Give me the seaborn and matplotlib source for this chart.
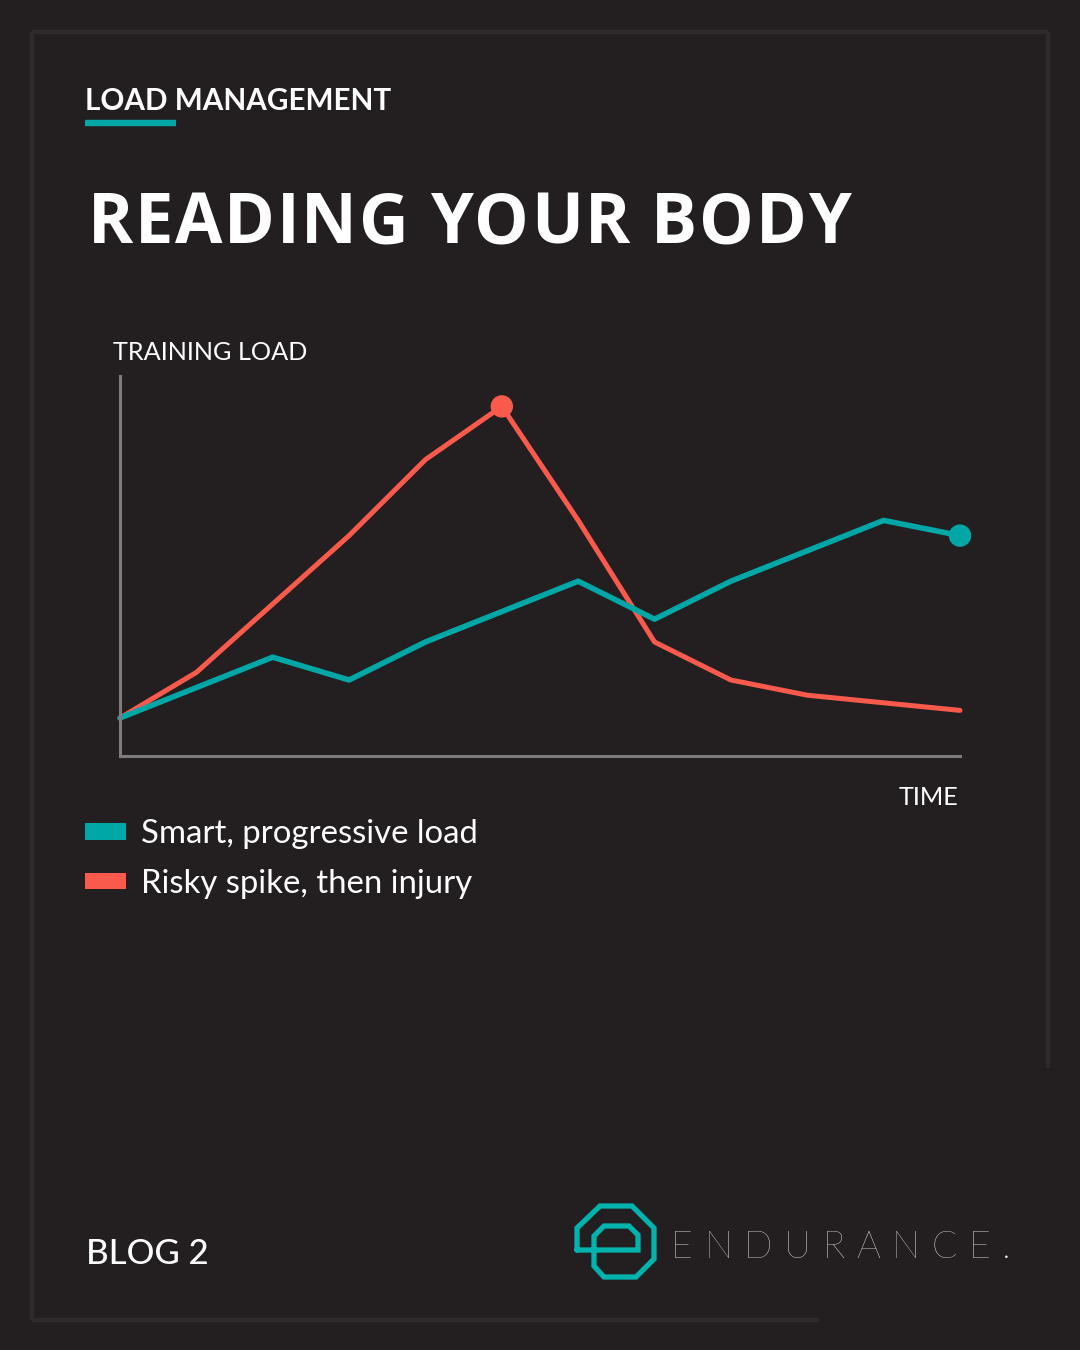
import numpy as np
import pandas as pd
import matplotlib
matplotlib.use("Agg")
import matplotlib.pyplot as plt
import seaborn as sns
from matplotlib.patches import Patch
from matplotlib.lines import Line2D

# ---- data (load on a 0-100 scale) ----
steps = list(range(12))
smart_load = [10, 18, 26, 20, 30, 38, 46, 36, 46, 54, 62, 58]
risky_load = [10, 22, 40, 58, 78, 92, 62, 30, 20, 16, 14, 12]
series_names = ["Smart, progressive load", "Risky spike, then injury"]

BG = "#231f20"
FRAME = "#2e2a2b"
TEAL = "#00a7a7"
RED = "#fa5a4b"
GREY = "#7d7b7b"
W, H = 1080, 1350

df = pd.DataFrame({
    "step": steps * 2,
    "load": smart_load + risky_load,
    "series": [series_names[0]] * 12 + [series_names[1]] * 12,
})
palette = {series_names[0]: TEAL, series_names[1]: RED}

sns.set_style("dark")
plt.rcParams["font.family"] = ["Lato", "DejaVu Sans"]

fig = plt.figure(figsize=(W / 100, H / 100), dpi=100, facecolor=BG)


def fx(x):
    return x / W


def fy(y):
    return 1 - y / H


# frame (open at the bottom right, where the logo sits)
frame_kw = dict(color=FRAME, lw=3, solid_capstyle="butt", transform=fig.transFigure)
fig.add_artist(Line2D([fx(32), fx(1048)], [fy(32), fy(32)], **frame_kw))
fig.add_artist(Line2D([fx(32), fx(32)], [fy(32), fy(1320)], **frame_kw))
fig.add_artist(Line2D([fx(32), fx(819)], [fy(1320), fy(1320)], **frame_kw))
fig.add_artist(Line2D([fx(1048), fx(1048)], [fy(32), fy(1068)], **frame_kw))

# ---- chart ----
ax = fig.add_axes([fx(120), fy(756), (960 - 120) / W, (756 - 376) / H])
ax.set_facecolor("none")
order = [series_names[1], series_names[0]]  # teal drawn on top
for name in order:
    sub = df[df["series"] == name]
    sns.lineplot(data=sub, x="step", y="load", color=palette[name], ax=ax,
                 linewidth=4.0 if name == series_names[0] else 3.6,
                 legend=False, clip_on=False)

# end markers: peak of the risky series, last point of the smart series
risky = df[df["series"] == series_names[1]]
smart = df[df["series"] == series_names[0]]
marks = pd.concat([risky.loc[[risky["load"].idxmax()]], smart.iloc[[-1]]])
sns.scatterplot(data=marks, x="step", y="load", hue="series", palette=palette,
                s=260, linewidth=0, legend=False, ax=ax, clip_on=False, zorder=5)

ax.set_xlim(0, 11)
ax.set_ylim(0, 100)
ax.set_xticks([])
ax.set_yticks([])
ax.set_xlabel("")
ax.set_ylabel("")
ax.grid(False)
for side in ["top", "right"]:
    ax.spines[side].set_visible(False)
ax.spines["left"].set_visible(True)
ax.spines["bottom"].set_visible(True)
ax.spines["left"].set_color(GREY)
ax.spines["bottom"].set_color(GREY)
ax.spines["left"].set_linewidth(2.2)
ax.spines["bottom"].set_linewidth(2.2)

# ---- texts ----
renderer = fig.canvas.get_renderer()


def spaced(x, y, s, spacing, space_w=None, **kw):
    for ch in s:
        if ch == " ":
            x += (space_w or kw.get("fontsize", 10) * 1.39 * 0.26) + spacing
            continue
        t = fig.text(fx(x), fy(y), ch, va="baseline", ha="left", **kw)
        x += t.get_window_extent(renderer).width + spacing


fig.text(fx(85), fy(110), "LOAD MANAGEMENT", color="white", fontsize=21.3,
         fontweight="bold", va="baseline", ha="left")
fig.add_artist(Line2D([fx(85), fx(176)], [fy(123), fy(123)], color=TEAL, lw=4.6,
                      solid_capstyle="butt", transform=fig.transFigure))

spaced(88, 243, "READING YOUR BODY", 1.7, space_w=18, color="white",
       fontsize=49.5, fontweight="bold", family="Open Sans")

fig.text(fx(113), fy(360), "TRAINING LOAD", color="white", fontsize=18.2,
         va="baseline", ha="left")
fig.text(fx(958), fy(805), "TIME", color="white", fontsize=18.2,
         va="baseline", ha="right")

handles = [Patch(facecolor=palette[n], edgecolor="none") for n in series_names]
fig.legend(handles, series_names, loc="upper left",
           bbox_to_anchor=(fx(85), fy(819)), frameon=False, fontsize=23.7,
           labelcolor="white", handlelength=1.25, handleheight=0.4,
           handletextpad=0.45, labelspacing=0.6, borderpad=0, borderaxespad=0)

fig.text(fx(86), fy(1264), "BLOG 2", color="white", fontsize=25,
         fontweight="medium", va="baseline", ha="left")

# logo mark
logo = [(577, 1250), (577, 1228), (600, 1206), (632, 1206), (654, 1228),
        (654, 1259), (636, 1277), (604, 1277), (594, 1266), (594, 1236),
        (604, 1226), (629, 1226), (638, 1235), (638, 1250), (577, 1250)]
fig.add_artist(Line2D([fx(p[0]) for p in logo], [fy(p[1]) for p in logo],
                      color="#00b3ad", lw=3.8, solid_joinstyle="miter",
                      transform=fig.transFigure))
spaced(671, 1258, "ENDURANCE.", 11.5, color="white", fontsize=27,
       fontweight="light", family="Lato")

fig.savefig("out.png", dpi=100, facecolor=BG)
